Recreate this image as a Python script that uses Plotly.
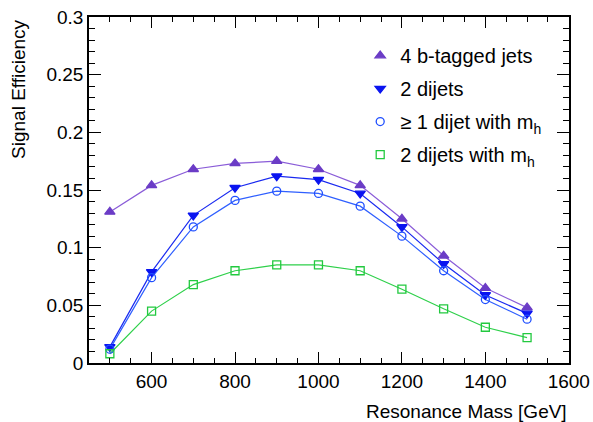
import plotly.graph_objects as go

mass = [500, 600, 700, 800, 900, 1000, 1100, 1200, 1300, 1400, 1500]
eff_4b = [0.131, 0.154, 0.168, 0.173, 0.175, 0.168, 0.154, 0.125, 0.093, 0.065, 0.048]
eff_2dijet = [0.014, 0.079, 0.128, 0.152, 0.162, 0.159, 0.147, 0.118, 0.086, 0.059, 0.043]
eff_1dijet_mh = [0.012, 0.074, 0.118, 0.141, 0.149, 0.147, 0.136, 0.110, 0.080, 0.055, 0.038]
eff_2dijet_mh = [0.008, 0.045, 0.068, 0.080, 0.085, 0.085, 0.080, 0.064, 0.047, 0.031, 0.022]

series = [
    ("4 b-tagged jets", eff_4b, "triangle-up", "#6B3CC6", "#8A5CD8", 9),
    ("2 dijets", eff_2dijet, "triangle-down", "#0A14F0", "#1A2AF0", 9),
    ("\u2265 1 dijet with m<sub>h</sub>", eff_1dijet_mh, "circle-open", "#1F4FFF", "#2F5FFF", 8),
    ("2 dijets with m<sub>h</sub>", eff_2dijet_mh, "square-open", "#22C93F", "#2ED04A", 8),
]

FONT = "Liberation Sans, Arial, sans-serif"
fig = go.Figure()
for i, (name, vals, sym, mcol, lcol, sz) in enumerate(series):
    fig.add_trace(go.Scatter(x=mass, y=vals, mode="lines", line=dict(color=lcol, width=1.2),
                             showlegend=False, hoverinfo="skip"))
for i, (name, vals, sym, mcol, lcol, sz) in enumerate(series):
    fig.add_trace(go.Scatter(x=mass, y=vals, mode="markers", name=name, legendgroup=str(i),
                             marker=dict(symbol=sym, size=sz, color=mcol,
                                         line=dict(color=mcol, width=1.3))))

axis_common = dict(showline=True, linecolor="black", linewidth=1.5, mirror="allticks",
                   ticks="inside", tickcolor="black", showgrid=False, zeroline=False,
                   automargin=False,
                   tickfont=dict(family=FONT, size=19, color="black"))
fig.update_xaxes(range=[450, 1600.5], tick0=0, dtick=200, ticklen=11, tickwidth=1.2,
                 minor=dict(dtick=50, ticklen=5, ticks="inside", tickcolor="black", tickwidth=1),
                 **axis_common)
fig.update_yaxes(range=[0, 0.3], tick0=0, dtick=0.05, ticklen=12, tickwidth=1.2,
                 minor=dict(dtick=0.01, ticklen=6, ticks="inside", tickcolor="black", tickwidth=1),
                 **axis_common)

fig.add_annotation(text="Resonance Mass [GeV]", xref="paper", yref="paper", x=1.0, y=-0.14,
                   xanchor="right", yanchor="middle", showarrow=False,
                   font=dict(family=FONT, size=19, color="black"))
fig.add_annotation(text="Signal Efficiency", xref="paper", yref="paper", x=-0.148, y=1.0,
                   xanchor="center", yanchor="top", textangle=-90, showarrow=False,
                   font=dict(family=FONT, size=19, color="black"))

fig.update_layout(
    width=593, height=422,
    margin=dict(l=89, r=24, t=17, b=59, autoexpand=False),
    paper_bgcolor="white", plot_bgcolor="white",
    legend=dict(x=0.565, y=0.945, xanchor="left", yanchor="top", bgcolor="rgba(0,0,0,0)",
                font=dict(family=FONT, size=20, color="black"), tracegroupgap=4,
                traceorder="grouped"),
    showlegend=True,
)
fig.write_html("out.html", config={"displayModeBar": False},
               post_script="document.body.style.margin='0';document.body.style.overflow='hidden';")
